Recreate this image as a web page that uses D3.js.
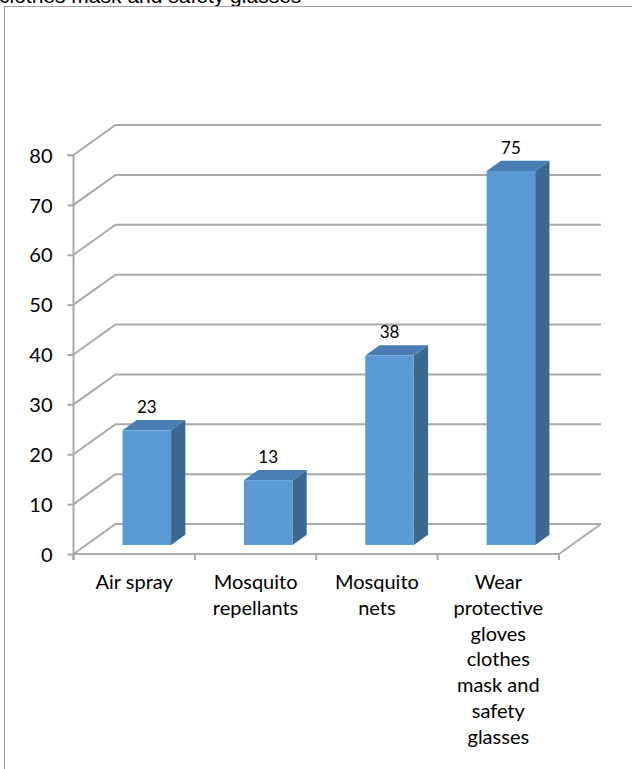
<!DOCTYPE html>
<html>
<head>
<meta charset="utf-8">
<script src="https://cdn.jsdelivr.net/npm/d3@7"></script>
<style>
  html, body { margin: 0; padding: 0; background: #fff; }
  svg { display: block; }
</style>
</head>
<body>
<svg id="chart" width="632" height="769"></svg>
<script>
const categories = ["Air spray", "Mosquito repellants", "Mosquito nets", "Wear protective gloves clothes mask and safety glasses"];
const categoryLines = [
  ["Air spray"],
  ["Mosquito", "repellants"],
  ["Mosquito", "nets"],
  ["Wear", "protective", "gloves", "clothes", "mask and", "safety", "glasses"]
];
const values = [23, 13, 38, 75];
const yTicks = [0, 10, 20, 30, 40, 50, 60, 70, 80];
const titleText = "clothes mask and safety glasses";

const svg = d3.select("#chart");
const W = 632, H = 769;

// geometry
const x0 = 73.5, x1 = 559, yBottom = 554, yTop = 155;
const DX = 42, DY = -30;          // depth vector (front -> back wall)
const zFront = 0.3, zBack = 0.64; // bar depth placement
const gridColor = "#a9a9a9";

const x = d3.scaleBand().domain(categories).range([x0, x1]).paddingInner(0).paddingOuter(0);
const y = d3.scaleLinear().domain([0, 80]).range([yBottom, yTop]);

// outer border / title
svg.append("text")
  .attr("x", -1).attr("y", 3)
  .attr("font-family", "Liberation Sans, Arial, sans-serif")
  .attr("font-size", 21).attr("fill", "#000")
  .text(titleText);
svg.append("path")
  .attr("d", `M4.5,${H} V6.5 H${W}`)
  .attr("fill", "none").attr("stroke", "#a0a0a0").attr("stroke-width", 1.2);

const g = svg.append("g");

// back wall gridlines + left wall diagonals
yTicks.forEach(t => {
  const yy = y(t);
  g.append("path")
    .attr("d", `M${x0},${yy} L${x0 + DX},${yy + DY} L${x1 + DX},${yy + DY}`)
    .attr("fill", "none").attr("stroke", gridColor).attr("stroke-width", 2);
});
// floor right edge
g.append("path")
  .attr("d", `M${x1},${yBottom} L${x1 + DX},${yBottom + DY}`)
  .attr("fill", "none").attr("stroke", gridColor).attr("stroke-width", 2);

// value axis (front)
const yAxis = d3.axisLeft(y).tickValues(yTicks).tickSize(6).tickPadding(15);
const ya = g.append("g").attr("transform", `translate(${x0},0)`).call(yAxis);
ya.select(".domain").attr("stroke", gridColor).attr("stroke-width", 2)
  .attr("d", `M-6,${yTop}H0V${yBottom + 6}`);
ya.selectAll(".tick line").attr("stroke", gridColor).attr("stroke-width", 2);
ya.selectAll(".tick text")
  .attr("font-family", "Lato, sans-serif").attr("font-size", 20).attr("fill", "#000")
  .attr("dy", "0.36em");

// category axis (front floor edge)
const xAxis = d3.axisBottom(x).tickSize(0).tickFormat("");
const xa = g.append("g").attr("transform", `translate(0,${yBottom})`).call(xAxis);
xa.select(".domain").attr("stroke", gridColor).attr("stroke-width", 2)
  .attr("d", `M${x0},0H${x1}`);
const boundaries = categories.map(c => x(c)).concat([x1]);
xa.selectAll(".sep").data(boundaries).enter().append("line")
  .attr("x1", d => d).attr("x2", d => d).attr("y1", 0).attr("y2", 6)
  .attr("stroke", gridColor).attr("stroke-width", 2);

// category labels
categories.forEach((c, i) => {
  const cx = x(c) + x.bandwidth() / 2;
  const t = g.append("text")
    .attr("text-anchor", "middle")
    .attr("font-family", "Lato, sans-serif").attr("font-size", 20).attr("fill", "#000");
  categoryLines[i].forEach((ln, j) => {
    t.append("tspan").attr("x", cx).attr("y", 589 + j * 25.8).text(ln);
  });
});

// bars
const barW = x.bandwidth() * 0.4;
const bars = g.append("g");
values.forEach((v, i) => {
  const c = categories[i];
  const left = x(c) + (x.bandwidth() - barW) / 2 + zFront * DX;
  const right = left + barW;
  const bot = y(0) + zFront * DY;
  const top = y(v) + zFront * DY;
  const ddx = (zBack - zFront) * DX, ddy = (zBack - zFront) * DY;
  // side face
  bars.append("path")
    .attr("d", `M${right},${bot} L${right + ddx},${bot + ddy} L${right + ddx},${top + ddy} L${right},${top} Z`)
    .attr("fill", "#3b6890");
  // top face
  bars.append("path")
    .attr("d", `M${left},${top} L${left + ddx},${top + ddy} L${right + ddx},${top + ddy} L${right},${top} Z`)
    .attr("fill", "#4a7db2");
  // front face
  bars.append("rect")
    .attr("x", left).attr("y", top).attr("width", barW).attr("height", bot - top)
    .attr("fill", "#5b9bd5");
  // value label
  bars.append("text")
    .attr("x", left + barW / 2).attr("y", top + ddy - 7)
    .attr("text-anchor", "middle")
    .attr("font-family", "Lato, sans-serif").attr("font-size", 17).attr("fill", "#000")
    .text(v);
});
</script>
</body>
</html>
